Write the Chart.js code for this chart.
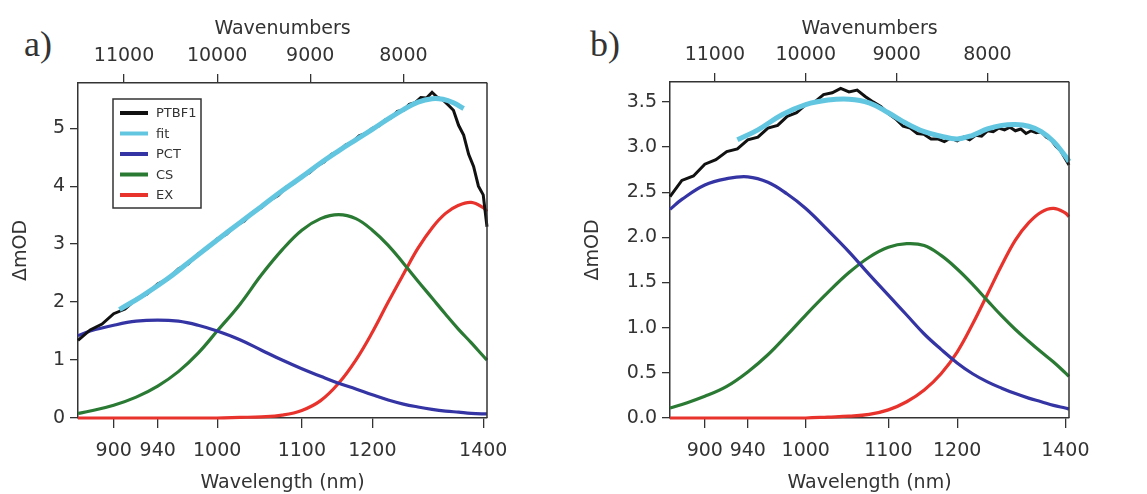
<!DOCTYPE html>
<html lang="en">
<head>
<meta charset="UTF-8">
<title>PTBF1 transient absorption fits</title>
<style>
  body { margin: 0; background: #fff; width: 1147px; height: 494px; overflow: hidden; position: relative; }
  canvas { position: absolute; top: 0; }
  #chartA { left: 0; }
  #chartB { left: 570px; }
  .panel-label { position: absolute; font-family: "Liberation Serif", "DejaVu Serif", serif; font-size: 36px; color: #333; line-height: 1; }
</style>
<script src="https://cdn.jsdelivr.net/npm/chart.js"></script>
</head>
<body>
<div class="panel-label" style="left:24px; top:26px">a)</div>
<div class="panel-label" style="left:590px; top:26px">b)</div>
<canvas id="chartA" width="560" height="494"></canvas>
<canvas id="chartB" width="577" height="494"></canvas>
<script>
// tick labels
const wavelengthTicks = [900, 940, 1000, 1100, 1200, 1400];
const wavenumberTicks = [11000, 10000, 9000, 8000];
const yTicksA = [0, 1, 2, 3, 4, 5];
const yTicksB = [0, 0.5, 1, 1.5, 2, 2.5, 3, 3.5];

// wavelength grid (nm) of the measured traces
const dataWl = [870, 880, 890, 900, 910, 920, 930, 940, 950, 960, 970, 980, 990, 1000,
  1010, 1020, 1030, 1040, 1050, 1060, 1070, 1080, 1090, 1100, 1110, 1120, 1130, 1140,
  1150, 1160, 1170, 1180, 1190, 1200, 1210, 1220, 1230, 1240, 1250, 1260, 1270, 1280,
  1290, 1300, 1310, 1320, 1330, 1340, 1350, 1360, 1370, 1380, 1390, 1400, 1408];

// wavelength grid (nm) of the fitted components
const compWl = [870, 880, 900, 920, 940, 960, 980, 1000, 1025, 1050, 1075, 1100, 1125,
  1150, 1175, 1200, 1225, 1250, 1275, 1300, 1325, 1350, 1375, 1400, 1408];

// ---- panel a ----
const ptbf1A = [1.34, 1.52, 1.62, 1.80, 1.88, 2.05, 2.14, 2.31, 2.40, 2.57, 2.66, 2.83, 2.93, 3.09,
  3.17, 3.32, 3.40, 3.55, 3.63, 3.76, 3.84, 3.98, 4.05, 4.17, 4.23, 4.35, 4.42, 4.55,
  4.60, 4.71, 4.76, 4.87, 4.91, 5.00, 5.04, 5.14, 5.18, 5.29, 5.31, 5.41, 5.44, 5.53,
  5.52, 5.62, 5.53, 5.49, 5.40, 5.31, 5.05, 4.88, 4.55, 4.34, 4.00, 3.85, 3.30];
const fitWlA = [905, 925, 950, 975, 1000, 1025, 1050, 1075, 1100, 1125, 1150, 1175, 1200,
  1225, 1250, 1275, 1300, 1320, 1340, 1360];
const fitA = [1.87, 2.10, 2.41, 2.75, 3.07, 3.37, 3.65, 3.92, 4.16, 4.40, 4.61, 4.80, 4.98,
  5.16, 5.32, 5.45, 5.51, 5.50, 5.44, 5.34];
const pctA = [1.42, 1.50, 1.60, 1.67, 1.69, 1.67, 1.60, 1.50, 1.35, 1.17, 1.00, 0.85, 0.72,
  0.60, 0.50, 0.40, 0.31, 0.24, 0.19, 0.15, 0.12, 0.10, 0.08, 0.07, 0.07];
const csA = [0.08, 0.12, 0.22, 0.36, 0.55, 0.80, 1.12, 1.50, 1.96, 2.47, 2.90, 3.24, 3.44,
  3.51, 3.44, 3.24, 2.98, 2.67, 2.36, 2.07, 1.79, 1.53, 1.30, 1.07, 1.00];
const exA = [0, 0, 0, 0, 0, 0, 0, 0, 0.01, 0.02, 0.05, 0.13, 0.30,
  0.60, 1.00, 1.48, 2.00, 2.48, 2.93, 3.28, 3.53, 3.67, 3.72, 3.63, 3.56];

// ---- panel b ----
const ptbf1B = [2.45, 2.63, 2.68, 2.81, 2.86, 2.95, 2.98, 3.08, 3.11, 3.21, 3.24, 3.34, 3.38, 3.47,
  3.50, 3.58, 3.60, 3.65, 3.61, 3.63, 3.56, 3.50, 3.45, 3.37, 3.31, 3.23, 3.21, 3.15,
  3.14, 3.09, 3.09, 3.06, 3.10, 3.07, 3.11, 3.08, 3.13, 3.12, 3.18, 3.17, 3.21, 3.19,
  3.22, 3.18, 3.20, 3.15, 3.18, 3.16, 3.17, 3.11, 3.08, 3.01, 2.96, 2.87, 2.80];
const fitWlB = [930, 950, 975, 1000, 1025, 1050, 1075, 1100, 1125, 1150, 1175, 1200, 1225,
  1250, 1275, 1300, 1325, 1350, 1375, 1400, 1408];
const fitB = [3.08, 3.19, 3.36, 3.47, 3.52, 3.53, 3.49, 3.38, 3.26, 3.17, 3.12, 3.09, 3.13,
  3.20, 3.24, 3.25, 3.23, 3.17, 3.06, 2.90, 2.84];
const pctB = [2.31, 2.42, 2.58, 2.65, 2.67, 2.61, 2.48, 2.32, 2.08, 1.84, 1.59, 1.36, 1.14,
  0.93, 0.76, 0.61, 0.49, 0.40, 0.33, 0.27, 0.22, 0.18, 0.14, 0.11, 0.10];
const csB = [0.11, 0.15, 0.24, 0.35, 0.51, 0.70, 0.92, 1.14, 1.39, 1.61, 1.78, 1.89, 1.93,
  1.91, 1.80, 1.65, 1.48, 1.30, 1.13, 0.98, 0.85, 0.73, 0.62, 0.50, 0.46];
const exB = [0, 0, 0, 0, 0, 0, 0, 0, 0.01, 0.02, 0.04, 0.09, 0.18,
  0.31, 0.49, 0.73, 1.04, 1.37, 1.69, 1.97, 2.16, 2.28, 2.32, 2.27, 2.23];

const COLORS = { ptbf1: '#111111', fit: '#62c6e0', pct: '#3434a4', cs: '#2a7a34', ex: '#e8322c' };
const TEXT = '#333';
const FONT = { family: 'DejaVu Sans', size: 19 };

// x axis is linear in wavenumber (cm-1), so convert nm -> cm-1
function pts(wl, vals) {
  return wl.map((w, i) => ({ x: 1e7 / w, y: vals[i] }));
}

function line(label, wl, vals, color, width, tension, order) {
  return {
    label: label, data: pts(wl, vals), borderColor: color, backgroundColor: color,
    borderWidth: width, pointRadius: 0, tension: tension, fill: false, clip: false, order: order
  };
}

// closes the box on the right side
const framePlugin = {
  id: 'frame',
  afterDraw(chart) {
    const a = chart.chartArea, c = chart.ctx;
    c.save();
    c.strokeStyle = TEXT;
    c.lineWidth = 1.5;
    c.beginPath();
    c.moveTo(a.right, a.top);
    c.lineTo(a.right, a.bottom);
    c.stroke();
    c.restore();
  }
};

// boxed legend inside panel a
const boxLegend = {
  id: 'boxLegend',
  afterDraw(chart, args, opts) {
    if (!opts.show) return;
    const c = chart.ctx;
    c.save();
    c.fillStyle = '#fff';
    c.fillRect(113, 99, 88, 109);
    c.strokeStyle = TEXT;
    c.lineWidth = 1.5;
    c.strokeRect(113, 99, 88, 109);
    c.font = '13px "DejaVu Sans"';
    c.textBaseline = 'middle';
    chart.data.datasets.forEach((ds, i) => {
      const y = 113 + i * 20.5;
      c.strokeStyle = ds.borderColor;
      c.lineWidth = 4;
      c.beginPath();
      c.moveTo(120, y);
      c.lineTo(148, y);
      c.stroke();
      c.fillStyle = TEXT;
      c.fillText(ds.label, 156, y + 1);
    });
    c.restore();
  }
};

function makePanel(id, set, yMax, yTicks, yFmt, yWidth, yTitlePad, topH, rightPad, showLegend) {
  const xMin = 1e7 / 1408, xMax = 1e7 / 870;
  return new Chart(document.getElementById(id), {
    type: 'line',
    data: {
      datasets: [
        line('PTBF1', dataWl, set.ptbf1, COLORS.ptbf1, 3, 0, 1),
        line('fit', set.fitWl, set.fit, COLORS.fit, 5, 0.4, 0),
        line('PCT', compWl, set.pct, COLORS.pct, 3.2, 0.4, 2),
        line('CS', compWl, set.cs, COLORS.cs, 3.2, 0.4, 3),
        line('EX', compWl, set.ex, COLORS.ex, 3.2, 0.4, 4)
      ]
    },
    options: {
      responsive: false,
      animation: false,
      layout: { padding: { left: 0, right: rightPad, top: 0, bottom: 0 } },
      plugins: {
        legend: { display: false },
        tooltip: { enabled: false },
        boxLegend: { show: showLegend }
      },
      scales: {
        x: {
          type: 'linear', position: 'bottom', reverse: true, min: xMin, max: xMax,
          afterBuildTicks: s => { s.ticks = wavelengthTicks.map(w => ({ value: 1e7 / w })); },
          afterFit: s => { s.height = 76; },
          ticks: { callback: v => String(Math.round(1e7 / v)), autoSkip: false, maxRotation: 0, padding: 12, font: FONT, color: TEXT },
          grid: { drawOnChartArea: false, tickLength: 10, color: TEXT, lineWidth: 1.3 },
          border: { color: TEXT, width: 1.5 },
          title: { display: true, text: 'Wavelength (nm)', font: FONT, color: TEXT, padding: { top: 0, bottom: 0 } }
        },
        xTop: {
          type: 'linear', position: 'top', reverse: true, min: xMin, max: xMax,
          afterBuildTicks: s => { s.ticks = wavenumberTicks.map(k => ({ value: k })); },
          afterFit: s => { s.height = topH; },
          ticks: { callback: v => String(v), autoSkip: false, maxRotation: 0, padding: 7, font: FONT, color: TEXT },
          grid: { drawOnChartArea: false, tickLength: 9, color: TEXT, lineWidth: 1.3 },
          border: { color: TEXT, width: 1.5 },
          title: { display: true, text: 'Wavenumbers', font: FONT, color: TEXT, padding: { top: 18, bottom: 0 } }
        },
        y: {
          type: 'linear', position: 'left', min: 0, max: yMax,
          afterBuildTicks: s => { s.ticks = yTicks.map(v => ({ value: v })); },
          afterFit: s => { s.width = yWidth; },
          ticks: { callback: yFmt, padding: 5, font: FONT, color: TEXT },
          grid: { drawOnChartArea: false, tickLength: 8, color: TEXT, lineWidth: 1.3 },
          border: { color: TEXT, width: 1.5 },
          title: { display: true, text: 'ΔmOD', font: FONT, color: TEXT, padding: { top: yTitlePad, bottom: 0 } }
        }
      }
    },
    plugins: [framePlugin, boxLegend]
  });
}

makePanel('chartA',
  { ptbf1: ptbf1A, fitWl: fitWlA, fit: fitA, pct: pctA, cs: csA, ex: exA },
  5.78, yTicksA, v => String(v), 78, 10, 83, 73, true);

makePanel('chartB',
  { ptbf1: ptbf1B, fitWl: fitWlB, fit: fitB, pct: pctB, cs: csB, ex: exB },
  3.72, yTicksB, v => v.toFixed(1), 100, 12, 82, 78, false);
</script>
</body>
</html>
